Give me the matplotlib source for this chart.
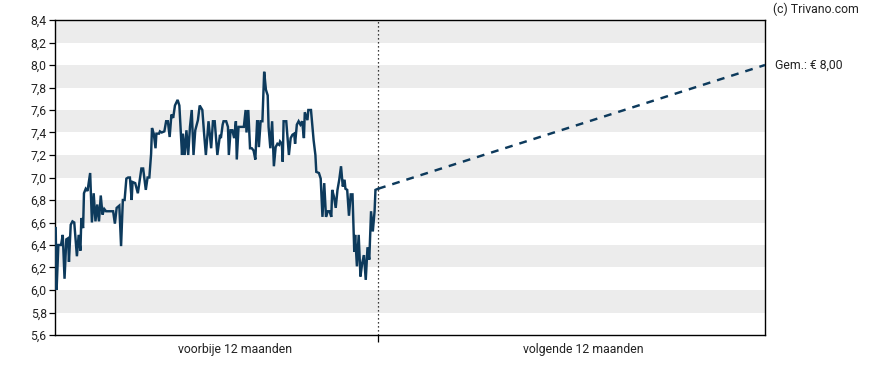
import matplotlib
matplotlib.use("Agg")
import matplotlib.pyplot as plt
from matplotlib.ticker import FixedLocator

plt.rcParams['font.family'] = ['Roboto', 'DejaVu Sans']

# Past 12 months: day offset and closing price
days = [0, 1, 3, 6, 8, 10, 12, 14, 15, 17, 19, 21, 24, 26, 28, 29, 31, 32, 34, 36,
        39, 41, 43, 45, 47, 49, 51, 53, 55, 57, 65, 67, 69, 72, 74, 76, 78, 80, 82, 84,
        86, 87, 90, 93, 97, 99, 102, 104, 106, 108, 109, 111, 113, 114, 117, 118, 120, 123, 125, 127,
        129, 131, 133, 135, 138, 140, 143, 144, 146, 148, 150, 152, 154, 156, 158, 161, 163, 166, 168, 170,
        173, 176, 178, 180, 183, 186, 187, 189, 190, 193, 195, 196, 198, 200, 202, 204, 205, 207, 213, 215,
        216, 218, 220, 222, 224, 226, 228, 229, 230, 232, 234, 236, 238, 240, 241, 243, 245, 247, 249, 251,
        253, 254, 256, 257, 258, 261, 264, 266, 268, 270, 271, 273, 275, 277, 279, 281, 282, 285, 286, 289,
        290, 292, 294, 295, 298, 300, 302, 304, 306, 308, 310, 312, 313, 315, 317, 319, 321, 323, 325, 327,
        328, 330, 332, 334, 336, 338, 339, 341, 343, 345, 347, 349, 351, 353, 355, 357, 359, 361, 362, 365]
prices = [6.55, 6.00, 6.40, 6.40, 6.49, 6.10, 6.45, 6.46, 6.25, 6.58, 6.61, 6.60, 6.30, 6.49, 6.35, 6.64, 6.55, 6.86, 6.90, 6.88,
          7.04, 6.60, 6.86, 6.61, 6.76, 6.61, 6.84, 6.67, 6.72, 6.70, 6.70, 6.59, 6.73, 6.75, 6.39, 6.80, 6.80, 6.99, 7.00, 7.00,
          6.80, 6.96, 6.95, 6.86, 7.08, 7.08, 6.89, 7.00, 7.00, 7.21, 7.44, 7.39, 7.26, 7.39, 7.39, 7.41, 7.40, 7.41, 7.50, 7.50,
          7.36, 7.56, 7.53, 7.64, 7.69, 7.64, 7.20, 7.39, 7.20, 7.42, 7.20, 7.45, 7.60, 7.20, 7.42, 7.51, 7.64, 7.60, 7.39, 7.20,
          7.50, 7.26, 7.50, 7.50, 7.20, 7.38, 7.35, 7.47, 7.50, 7.50, 7.45, 7.20, 7.42, 7.42, 7.35, 7.50, 7.16, 7.45, 7.45, 7.60,
          7.40, 7.60, 7.26, 7.26, 7.24, 7.16, 7.50, 7.50, 7.27, 7.50, 7.50, 7.94, 7.78, 7.73, 7.45, 7.26, 7.50, 7.10, 7.27, 7.30,
          7.29, 7.32, 7.30, 7.14, 7.50, 7.50, 7.20, 7.35, 7.38, 7.39, 7.30, 7.47, 7.50, 7.47, 7.50, 7.35, 7.58, 7.51, 7.60, 7.60,
          7.51, 7.33, 7.20, 7.05, 7.04, 6.99, 6.65, 6.95, 6.65, 6.70, 6.70, 6.65, 6.89, 6.83, 6.73, 6.89, 6.98, 7.10, 6.92, 6.98,
          6.90, 6.89, 6.66, 6.85, 6.85, 6.34, 6.49, 6.21, 6.49, 6.12, 6.24, 6.31, 6.09, 6.38, 6.27, 6.70, 6.52, 6.70, 6.89, 6.90]

# Forecast: from last close to average target at end of next 12 months
target_days = [365, 803]
target_prices = [6.90, 8.00]
target_label = "Gem.: € 8,00"

y_ticks = [5.6, 5.8, 6.0, 6.2, 6.4, 6.6, 6.8, 7.0, 7.2, 7.4, 7.6, 7.8, 8.0, 8.2, 8.4]
period_labels = ["voorbije 12 maanden", "volgende 12 maanden"]
period_label_pos = [203, 597]
divider_day = 365

navy = '#0d3a5c'
text_col = '#222222'
fs = 8.8

fig = plt.figure(figsize=(8.88, 3.7), dpi=100)
ax = fig.add_axes([55/888, 35/370, 710/888, 315/370])

# alternating bands
for i, lo in enumerate(y_ticks[:-1]):
    if i % 2 == 1:
        ax.axhspan(lo, y_ticks[i + 1], color='#ececec', lw=0, zorder=0)

ax.plot(days, prices, color=navy, lw=1.75, zorder=3, solid_joinstyle='miter')
ax.plot(target_days, target_prices, color=navy, lw=1.75, ls=(0, (3.2, 2.9)), zorder=3)
ax.axvline(divider_day, color='black', lw=0.9, ls=(0, (1, 2.2)), zorder=2)

ax.set_xlim(-0.8, 803)
ax.set_ylim(5.6, 8.4)
ax.set_yticks(y_ticks)
ax.set_yticklabels([f"{v:.1f}".replace('.', ',') for v in y_ticks])

ax.xaxis.set_major_locator(FixedLocator(period_label_pos))
ax.set_xticklabels(period_labels)
ax.xaxis.set_minor_locator(FixedLocator([divider_day]))
ax.tick_params(axis='x', which='major', length=0, pad=6, labelsize=fs, labelcolor=text_col)
ax.tick_params(axis='x', which='minor', length=5, width=0.9, color='black')
ax.tick_params(axis='y', length=4, width=0.9, pad=2, labelsize=fs, labelcolor=text_col)

for s in ax.spines.values():
    s.set_linewidth(1.0)
    s.set_color('black')

fig.text(773/888, 1 - 9/370, "(c) Trivano.com", ha='left', va='center', fontsize=fs, color=text_col)
ax.annotate(target_label, xy=(target_days[-1], target_prices[-1]), xytext=(7.5, 0),
            textcoords='offset points', ha='left', va='center', fontsize=fs,
            color=text_col, annotation_clip=False)

fig.savefig('out.png', dpi=100)
